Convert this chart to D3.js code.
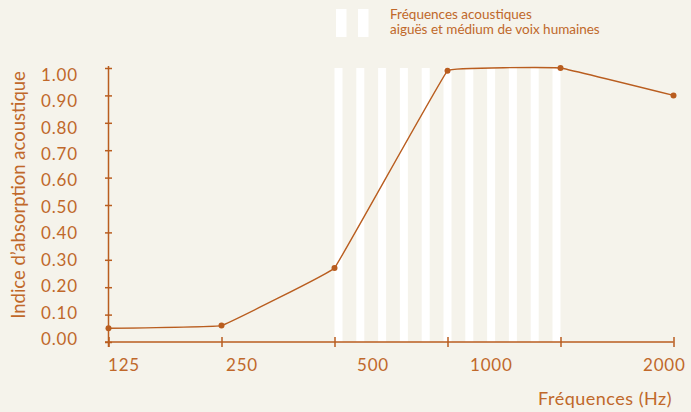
<!DOCTYPE html>
<html>
<head>
<meta charset="utf-8">
<script src="https://cdn.jsdelivr.net/npm/d3@7"></script>
<style>
  body { margin: 0; background: #f5f3eb; }
  svg { display: block; font-family: Lato, sans-serif; }
</style>
</head>
<body>
<script>
const frequencies = [125, 250, 500, 1000, 2000, 4000];
const absorption = [0.05, 0.06, 0.27, 0.99, 1.00, 0.90];
const yTicks = [0, 0.1, 0.2, 0.3, 0.4, 0.5, 0.6, 0.7, 0.8, 0.9, 1.0];
const xTickLabels = ['125', '250', '500', '1000', '2000'];
const voiceBand = [500, 2000];
const stripeCount = 11;
const legendLines = ['Fréquences acoustiques', 'aiguës et médium de voix humaines'];

const orange = '#b95d1f';
const textColor = '#c0682a';

const svg = d3.select('body')
    .append('svg')
    .attr('width', 691)
    .attr('height', 412);

const x = d3.scaleLog().base(2)
    .domain([125, 4000])
    .range([108.5, 673.5]);

const y = d3.scaleLinear()
    .domain([0, 1])
    .range([342, 68]);

// the printed labels do not sit exactly on their ticks
const xLabelLeft = d3.scaleOrdinal().domain(xTickLabels).range([108, 226, 357, 470, 643]);
const yLabel = y.copy().range([339, 74.5]);

// white stripes for the voice band
const bandLeft = x(voiceBand[0]);
const bandRight = x(voiceBand[1]);
const stripeW = 8;
const step = (bandRight - bandLeft - stripeW) / (stripeCount - 1);

svg.append('g')
    .selectAll('rect')
    .data(d3.range(stripeCount))
    .join('rect')
    .attr('x', i => bandLeft + i * step)
    .attr('y', y(1))
    .attr('width', stripeW)
    .attr('height', y(0) - y(1))
    .attr('fill', '#ffffff');

// legend
svg.append('g')
    .selectAll('rect')
    .data([0, 1])
    .join('rect')
    .attr('x', i => 336 + i * 22)
    .attr('y', 9)
    .attr('width', 10.5)
    .attr('height', 28)
    .attr('fill', '#ffffff');

svg.append('g')
    .selectAll('text')
    .data(legendLines)
    .join('text')
    .attr('x', 390)
    .attr('y', (d, i) => 19 + i * 15)
    .attr('fill', textColor)
    .style('font-size', '13.5px')
    .text(d => d);

// x axis
const xAxis = svg.append('g')
    .attr('transform', `translate(0,${y(0)})`)
    .call(d3.axisBottom(x).tickValues(frequencies).tickSizeOuter(0).tickFormat(''));

xAxis.select('.domain')
    .attr('d', `M105,0H${x(4000)}`)
    .attr('stroke', orange)
    .attr('stroke-width', 1.5);
xAxis.selectAll('.tick line')
    .attr('y1', -5)
    .attr('y2', 5)
    .attr('stroke', orange)
    .attr('stroke-width', 1.5);

svg.append('g')
    .selectAll('text')
    .data(xTickLabels)
    .join('text')
    .attr('x', d => xLabelLeft(d))
    .attr('y', 371)
    .attr('fill', textColor)
    .style('font-size', '17px')
    .style('letter-spacing', '0.8px')
    .text(d => d);

// y axis
const yAxis = svg.append('g')
    .attr('transform', `translate(${x(125)},0)`)
    .call(d3.axisLeft(y).tickValues(yTicks).tickSizeOuter(0).tickFormat(''));

yAxis.select('.domain')
    .attr('d', `M0,66V347`)
    .attr('stroke', orange)
    .attr('stroke-width', 1.5);
yAxis.selectAll('.tick line')
    .attr('x1', -3.5)
    .attr('x2', 3.5)
    .attr('stroke', orange)
    .attr('stroke-width', 1.5);

svg.append('g')
    .selectAll('text')
    .data(yTicks)
    .join('text')
    .attr('x', 41)
    .attr('y', d => yLabel(d))
    .attr('dy', '0.36em')
    .attr('fill', textColor)
    .style('font-size', '17px')
    .style('letter-spacing', '0.8px')
    .text(d => d3.format('.2f')(d));

// axis titles
svg.append('text')
    .attr('transform', `translate(25,195) rotate(-90)`)
    .attr('text-anchor', 'middle')
    .attr('fill', textColor)
    .style('font-size', '18.5px')
    .text("Indice d’absorption acoustique");

svg.append('text')
    .attr('x', 672)
    .attr('y', 405)
    .attr('text-anchor', 'end')
    .attr('fill', textColor)
    .style('font-size', '18px')
    .style('letter-spacing', '0.5px')
    .text('Fréquences (Hz)');

// curve
const points = frequencies.map((f, i) => [f, absorption[i]]);

svg.append('path')
    .datum(points)
    .attr('fill', 'none')
    .attr('stroke', orange)
    .attr('stroke-width', 1.4)
    .attr('d', d3.line()
        .x(d => x(d[0]))
        .y(d => y(d[1]))
        .curve(d3.curveCardinal.tension(0.88)));

svg.append('g')
    .selectAll('circle')
    .data(points)
    .join('circle')
    .attr('cx', d => x(d[0]))
    .attr('cy', d => y(d[1]))
    .attr('r', 3)
    .attr('fill', orange);
</script>
</body>
</html>
